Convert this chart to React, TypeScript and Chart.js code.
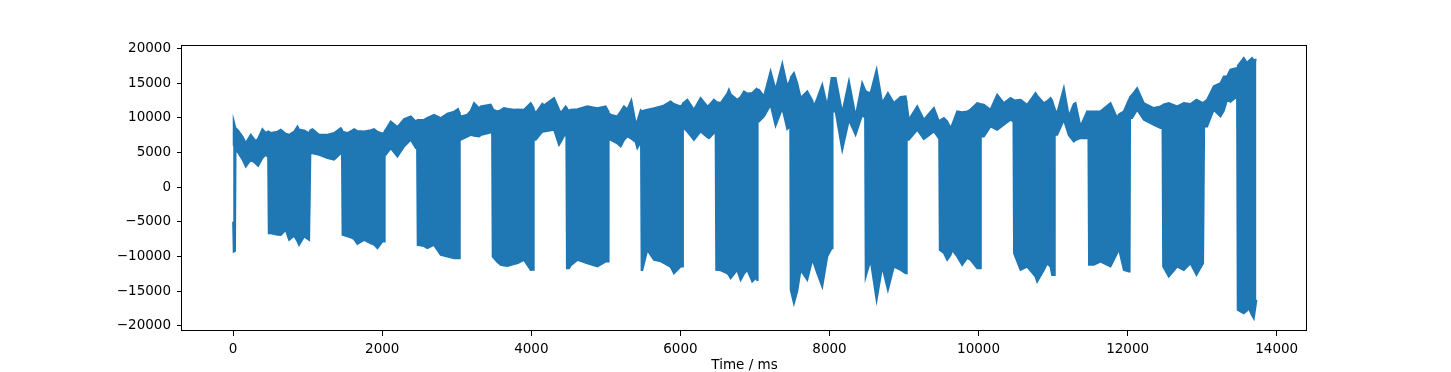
import { useEffect, useRef } from "react";
import { Chart, registerables } from "chart.js";

Chart.register(...registerables);

const timeMs = [
  0, 8, 25, 32, 58, 125, 170, 237, 304, 335, 393, 438, 470,
  478, 505, 595, 639, 706, 751, 818, 863, 885, 952, 1019, 1030,
  1036, 1064, 1153, 1265, 1354, 1444, 1460,
  1468, 1533, 1600, 1623, 1667, 1757, 1846, 1891, 1936, 2003, 2025,
  2033, 2047, 2114, 2204, 2293, 2383, 2450, 2468,
  2476, 2561, 2606, 2695, 2785, 2874, 2964, 3017, 3033,
  3040, 3053, 3142, 3187, 3232, 3299, 3321, 3455, 3474,
  3482, 3545, 3589, 3634, 3679, 3768, 3813, 3902, 3992, 4025,
  4032, 4059, 4148, 4171, 4305, 4372, 4394, 4461, 4470,
  4478, 4506, 4528, 4618, 4752, 4886, 4997, 5030,
  5037, 5065, 5154, 5199, 5243, 5288, 5342, 5400, 5422, 5467, 5472,
  5480, 5489, 5556, 5646, 5735, 5780, 5869, 5914, 6003, 6027,
  6034, 6048, 6093, 6182, 6271, 6361, 6383, 6450, 6473,
  6481, 6540, 6629, 6651, 6674, 6763, 6808, 6853, 6897, 6964, 7022, 7030,
  7036, 7054, 7121, 7210, 7277, 7367, 7434, 7474,
  7480, 7523, 7568, 7613, 7702, 7769, 7791, 7836, 7903, 7970, 8028, 8035,
  8041, 8082, 8171, 8261, 8350, 8439, 8478,
  8486, 8551, 8632, 8708, 8784, 8864, 8954, 9021, 9030,
  9036, 9065, 9177, 9266, 9401, 9468, 9472,
  9480, 9535, 9579, 9624, 9646, 9713, 9780, 9848, 9892, 9982, 10025,
  10030, 10071, 10160, 10250, 10339, 10429, 10468,
  10476, 10563, 10652, 10764, 10786, 10876, 10920, 10965, 10987, 11015,
  11022, 11055, 11144, 11211, 11278, 11300, 11367, 11457, 11474,
  11482, 11546, 11636, 11770, 11859, 11881, 11949, 12016, 12026,
  12032, 12060, 12127, 12217, 12351, 12440, 12468,
  12476, 12552, 12664, 12753, 12843, 12923, 13012, 13020,
  13026, 13066, 13155, 13245, 13290, 13334, 13379, 13468, 13474,
  13480, 13558, 13602, 13625, 13669, 13692, 13728,
];

// Upper edge of the signal band at each time above
const upperEnv = [
  6000, 9500, 8800, 8500, 8280, 7300, 6350, 7550, 6600, 7000, 8370, 7800, 8040,
  8000, 7800, 8000, 8280, 7700, 7550, 8000, 8760, 8300, 8180, 7800, 7800,
  8200, 8370, 7550, 7550, 7800, 8520, 8300,
  8000, 7800, 8200, 8370, 8100, 8040, 8200, 8370, 8000, 7700, 7900,
  8100, 8280, 9480, 8660, 9820, 10200, 9480, 9600,
  9700, 9720, 10000, 10440, 9960, 10590, 10900, 11260, 10800,
  10500, 10200, 10440, 11000, 12130, 11400, 11650, 11890, 11500,
  11200, 10930, 11100, 11410, 11300, 11170, 11200, 11170, 12130, 11500,
  11200, 10690, 12030, 11800, 12850, 11200, 10690, 11650, 11500,
  11300, 11000, 11170, 11250, 11650, 11400, 11650, 11000,
  10700, 10440, 10200, 10900, 11650, 11200, 12510, 9240, 9500, 11070, 11000,
  11000, 11000, 11170, 11400, 11650, 11800, 12370, 12000, 11650, 11900,
  12100, 12200, 12610, 11170, 12850, 11650, 11800, 12610, 12400,
  12300, 12130, 13500, 14050, 13400, 12610, 13000, 13810, 13500, 13570, 14200, 14100,
  14050, 14050, 13090, 16700, 14050, 17810, 14540, 15500,
  15800, 16460, 15000, 12850, 13810, 12500, 11650, 12800, 14780, 11650, 15740, 15740,
  15740, 15740, 10690, 15260, 10200, 15020, 14000,
  13800, 13570, 16940, 12130, 13570, 12130, 13000, 13090, 12500,
  12000, 9720, 11650, 9720, 11410, 9480, 9500,
  9600, 9960, 9500, 8520, 9000, 10930, 10800, 10930, 11200, 12130, 12000,
  12000, 11890, 11170, 13330, 12130, 12850, 12600,
  12500, 12610, 11890, 13570, 13200, 12130, 12400, 12850, 12500, 11500,
  11200, 10690, 14290, 10200, 12000, 12130, 8760, 10930, 10900,
  10900, 10930, 10930, 12130, 9960, 10500, 10930, 12610, 12800,
  13000, 13330, 14290, 12130, 11410, 11650, 11800,
  11900, 12130, 11650, 12130, 12000, 12610, 12130, 12200,
  12300, 12610, 14540, 15000, 15980, 16000, 16940, 17180, 17300,
  17500, 18630, 17900, 18200, 18630, 18300, 18400,
];

// Lower edge of the signal band at each time above
const lowerEnv = [
  -5000, -9300, -9200, 5200, 5150, 4000, 2980, 3950, 3400, 3080, 4200, 4670, 4330,
  -6640, -6640, -6880, -6900, -6160, -7600, -7000, -7800, -8330, -7120, -7600, -7600,
  4900, 4900, 4670, 4190, 3950, 4900, 4900,
  -6880, -7100, -7360, -7500, -8180, -7600, -8090, -8300, -8810, -7840, -7840,
  4670, 4670, 5630, 4430, 5870, 6830, 5630, 5630,
  -8330, -8500, -8810, -8330, -9770, -10010, -10250, -10250, -10250,
  6830, 6830, 7300, 7550, 7400, 7320, 7500, 7890, 7890,
  -10010, -10800, -11210, -11300, -11360, -11100, -10970, -10490, -11940, -11900,
  6830, 6830, 8000, 8040, 8280, 6110, 6500, 7800, 7800,
  -11700, -11700, -11300, -10490, -10970, -11450, -10730, -10730,
  6830, 6830, 6300, 5870, 6800, 7320, 7000, 6500, 5630, 6500, 6500,
  -11940, -11940, -9050, -10490, -10700, -10970, -11500, -12420, -11450, -11450,
  8520, 8520, 8000, 6830, 8040, 7200, 7070, 7800, 7800,
  -11940, -12000, -12420, -12700, -13140, -11940, -13380, -12500, -11940, -13620, -13000, -13380,
  9480, 9480, 10200, 11890, 8860, 11410, 8370, 8800,
  -14820, -16750, -15000, -11940, -13380, -10490, -11000, -12420, -14340, -10010, -8810, -8810,
  10930, 10930, 5390, 9720, 7550, 10440, 10000,
  -12900, -10490, -16270, -11450, -14820, -11450, -11940, -12420, -12420,
  6830, 6830, 8280, 6930, 8040, 7070, 7070,
  -9050, -9500, -10490, -9800, -9050, -10000, -11210, -10200, -10490, -11700, -11700,
  7320, 7320, 8760, 8280, 9000, 9720, 9500,
  -9530, -11940, -11450, -12900, -13620, -11940, -11000, -11450, -12660, -12660,
  7550, 7550, 9720, 7500, 6590, 6800, 7070, 7070, 7070,
  -11210, -11210, -10730, -11450, -9500, -8810, -11940, -12180, -12180,
  9960, 9960, 11170, 9720, 9000, 8520, 8520,
  -11450, -12900, -11450, -11940, -10970, -12660, -10970, -10970,
  8760, 8760, 11170, 10200, 11000, 12610, 12300, 13090, 13090,
  -17710, -18190, -17800, -17470, -18500, -18920, -16270,
];

const xTickValues = [0, 2000, 4000, 6000, 8000, 10000, 12000, 14000];
const yTickValues = [-20000, -15000, -10000, -5000, 0, 5000, 10000, 15000, 20000];

const X_MIN = -686;
const X_MAX = 14406;
const Y_MIN = -20751;
const Y_MAX = 20505;

const BLUE = "#1f77b4";
const FONT = { family: "'DejaVu Sans', sans-serif", size: 13.5 };

const framePlugin = {
  id: "frame",
  afterDatasetsDraw(chart: any) {
    const { ctx, chartArea: a } = chart;
    ctx.save();
    ctx.strokeStyle = "#000";
    ctx.lineWidth = 1;
    ctx.strokeRect(
      Math.round(a.left) - 0.5,
      Math.round(a.top) + 0.5,
      Math.round(a.right) - Math.round(a.left),
      Math.round(a.bottom) - Math.round(a.top) - 1
    );
    ctx.restore();
  },
};

export default function App() {
  const canvasRef = useRef<HTMLCanvasElement | null>(null);

  useEffect(() => {
    if (!canvasRef.current) return;
    const upper = timeMs.map((t, i) => ({ x: t, y: upperEnv[i] }));
    const lower = timeMs.map((t, i) => ({ x: t, y: lowerEnv[i] }));
    const chart = new Chart(canvasRef.current, {
      type: "line",
      data: {
        datasets: [
          {
            label: "upper",
            data: upper,
            borderColor: BLUE,
            backgroundColor: BLUE,
            borderWidth: 2,
            pointRadius: 0,
            tension: 0,
            fill: "+1",
          },
          {
            label: "lower",
            data: lower,
            borderColor: BLUE,
            backgroundColor: BLUE,
            borderWidth: 2,
            pointRadius: 0,
            tension: 0,
            fill: false,
          },
        ],
      },
      options: {
        animation: false,
        responsive: false,
        devicePixelRatio: 1,
        layout: { padding: { top: 45, right: 144, bottom: 0, left: 0 } },
        plugins: {
          legend: { display: false },
          tooltip: { enabled: false },
        },
        scales: {
          x: {
            type: "linear",
            min: X_MIN,
            max: X_MAX,
            afterFit: (s: any) => {
              s.height = 41;
            },
            afterBuildTicks: (s: any) => {
              s.ticks = xTickValues.map((v) => ({ value: v }));
            },
            grid: {
              display: true,
              drawOnChartArea: false,
              drawTicks: true,
              tickLength: 5,
              tickColor: "#000",
              tickWidth: 1,
            },
            border: { display: false },
            ticks: {
              color: "#000",
              font: FONT,
              padding: 5,
              maxRotation: 0,
              autoSkip: false,
              callback: (v: any) => String(v).replace("-", "\u2212"),
            },
            title: {
              display: true,
              text: "Time / ms",
              color: "#000",
              font: FONT,
              padding: { top: 0, bottom: -2 },
            },
          },
          y: {
            type: "linear",
            min: Y_MIN,
            max: Y_MAX,
            afterFit: (s: any) => {
              s.width = 182;
            },
            afterBuildTicks: (s: any) => {
              s.ticks = yTickValues.map((v) => ({ value: v }));
            },
            grid: {
              display: true,
              drawOnChartArea: false,
              drawTicks: true,
              tickLength: 5,
              tickColor: "#000",
              tickWidth: 1,
            },
            border: { display: false },
            ticks: {
              color: "#000",
              font: FONT,
              padding: 6,
              autoSkip: false,
              callback: (v: any) => String(v).replace("-", "\u2212"),
            },
          },
        },
      },
      plugins: [framePlugin],
    });
    return () => chart.destroy();
  }, []);

  return (
    <div style={{ position: "absolute", left: 0, top: 0, width: 1451, height: 372, background: "#fff" }}>
      <canvas ref={canvasRef} width={1451} height={372} style={{ display: "block", width: 1451, height: 372 }} />
    </div>
  );
}
